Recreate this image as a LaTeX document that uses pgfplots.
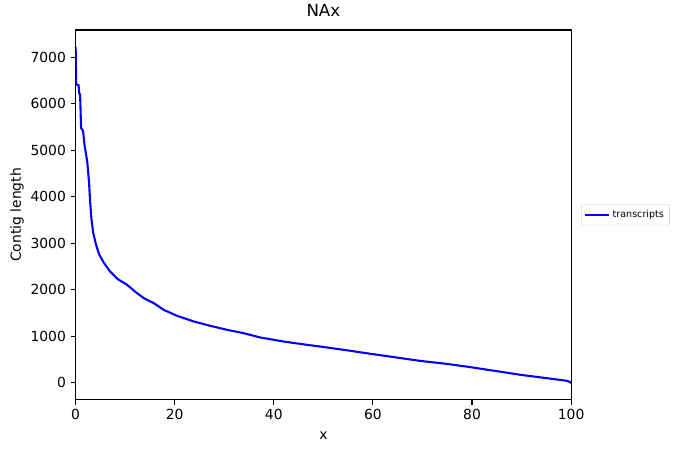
\documentclass[border=0pt]{standalone}
\usepackage{fontspec}
\setmainfont{DejaVu Sans}
\usepackage{pgfplots}
\pgfplotsset{compat=1.18}

\begin{document}
\begin{tikzpicture}
\begin{axis}[
  width=357pt,
  height=266.4pt,
  scale only axis,
  xmin=0, xmax=100,
  ymin=-365, ymax=7589,
  xtick={0,20,40,60,80,100},
  ytick={0,1000,2000,3000,4000,5000,6000,7000},
  /pgf/number format/assume math mode=true,
  /pgf/number format/set thousands separator={},
  tick align=outside,
  tick pos=left,
  major tick length=3.5pt,
  every tick/.style={black,line width=0.8pt},
  axis line style={line width=0.8pt},
  tick label style={font=\fontsize{10}{12}\selectfont},
  label style={font=\fontsize{10}{12}\selectfont},
  title style={font=\fontsize{12}{14}\selectfont},
  ylabel style={yshift=-2pt},
  xlabel style={yshift=-1.5pt},
  title={NAx},
  xlabel={x},
  ylabel={Contig length},
  legend style={at={(1.02,0.5)},anchor=west,
    font=\fontsize{6.9}{8}\selectfont,
    draw=black!15, rounded corners=1.5pt,
    inner sep=2pt},
  legend cell align=left,
]
\addplot [color=blue, line width=1.5pt] coordinates {
(0,7228) (0.05,6900) (0.1,6420) (0.6,6400) (0.7,6230) (0.9,6200)
(1.1,5480) (1.5,5420) (1.8,5110) (2.35,4750) (2.7,4320) (2.9,3935)
(3.2,3511) (3.55,3225) (4.1,2974) (4.76,2758) (5.7,2580) (6.9,2400)
(8.6,2221) (10.3,2114) (12.3,1935)
(13.8,1818) (15.8,1711) (17.8,1567) (20.5,1439) (23.9,1317)
(27.2,1224) (30.6,1138) (33.9,1067) (37.3,973) (42.0,887) (46.7,816)
(50,770) (55,695) (59.5,623) (65,540) (69.6,470) (75,405) (79.6,337)
(85,250) (89.7,172) (95,100) (99.1,43) (99.6,25) (100,-3)
};
\addlegendentry{transcripts}
\end{axis}
\path ([xshift=-54.5pt,yshift=-38.2pt]current axis.south west)
  rectangle ([xshift=76.3pt,yshift=21.6pt]current axis.north east);
\end{tikzpicture}
\end{document}
